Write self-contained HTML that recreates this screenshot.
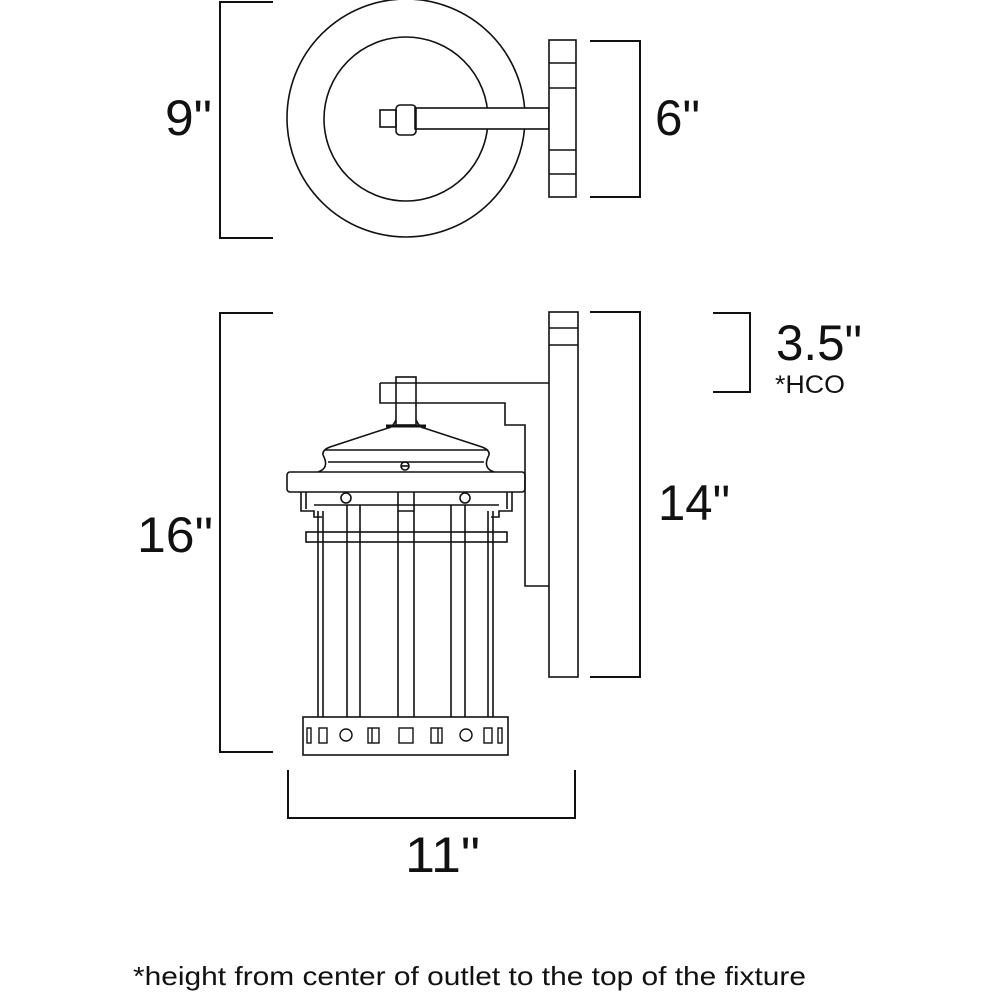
<!DOCTYPE html>
<html><head><style>html,body{margin:0;padding:0;background:#fff}svg{display:block}</style></head>
<body>
<svg width="1000" height="1000" viewBox="0 0 1000 1000" xmlns="http://www.w3.org/2000/svg" font-family="Liberation Sans, sans-serif" fill="none" stroke="#111" stroke-width="1.6">
<!-- top view -->
<circle cx="406" cy="118" r="119"/>
<circle cx="406" cy="119" r="82"/>
<rect x="415" y="108" width="134" height="21" fill="#fff"/>
<rect x="380" y="110" width="16" height="17"/>
<rect x="396" y="105" width="20" height="30" rx="4"/>
<rect x="549" y="40" width="27" height="157" fill="#fff"/>
<path d="M549 63H576M549 88H576M549 150H576M549 174H576"/>
<path d="M590 41H640V197H590" stroke-width="2"/>
<path d="M273 2H220V238H273" stroke-width="2"/>
<!-- side view bracket -->
<rect x="549" y="312" width="29" height="365"/>
<path d="M549 328H578M549 345H578"/>
<path d="M380 383H549M380 383V403H505V425H525V586H549"/>
<rect x="396" y="377" width="20" height="48"/>
<!-- canopy -->
<path d="M396 420 Q392 428 388 428 L330 447 Q322 450 323 455 M416 420 Q420 428 424 428 L482 447 Q490 450 489 455"/>
<path d="M386 426H426" stroke-width="3"/>
<path d="M325 450H488"/>
<path d="M323 455 Q330 468 318 472 M489 455 Q482 468 494 472"/>
<path d="M328 462H484"/>
<rect x="287" y="472" width="238" height="20" rx="3"/>
<circle cx="405" cy="466" r="4"/>
<path d="M401 466H409"/>
<!-- cage top -->
<path d="M301 492V511H314V517H322 M512 492V511H499V517H491 M306 492V509 M507 492V509 M314 505H499"/>
<circle cx="346" cy="498" r="5"/><circle cx="465" cy="498" r="5"/>
<path d="M398 492V511H414V492"/>
<rect x="306" y="532" width="201" height="10"/>
<path d="M318 511V717M323 511V717M347 505V717M360 505V717M398 511V717M414 511V717M451 505V717M465 505V717M488 511V717M493 511V717"/>
<!-- base -->
<rect x="303" y="717" width="205" height="38"/>
<g stroke-width="1.4">
<rect x="307" y="728" width="4" height="15"/><rect x="319" y="728" width="8" height="15"/>
<circle cx="346" cy="735" r="6"/>
<rect x="368" y="728" width="11" height="15"/><path d="M372 728V743"/>
<rect x="399" y="728" width="14" height="15"/>
<rect x="431" y="728" width="11" height="15"/><path d="M438 728V743"/>
<circle cx="466" cy="735" r="6"/>
<rect x="484" y="728" width="8" height="15"/><rect x="498" y="728" width="4" height="15"/>
</g>
<!-- dims -->
<path d="M273 313H220V752H273" stroke-width="2"/>
<path d="M590 312H640V677H590" stroke-width="2"/>
<path d="M713 313H750V392H713" stroke-width="2"/>
<path d="M288 770V818H575V770" stroke-width="2"/>
<g fill="#111" stroke="none">
<text x="165" y="135" font-size="50" textLength="47" lengthAdjust="spacingAndGlyphs">9"</text>
<text x="655" y="135" font-size="50" textLength="45" lengthAdjust="spacingAndGlyphs">6"</text>
<text x="137" y="552" font-size="50" textLength="76" lengthAdjust="spacingAndGlyphs">16"</text>
<text x="658" y="520" font-size="50" textLength="72" lengthAdjust="spacingAndGlyphs">14"</text>
<text x="776" y="360" font-size="50" textLength="86" lengthAdjust="spacingAndGlyphs">3.5"</text>
<text x="775" y="393" font-size="25" textLength="70" lengthAdjust="spacingAndGlyphs">*HCO</text>
<text x="405" y="872" font-size="50" textLength="75" lengthAdjust="spacingAndGlyphs">11"</text>
<text x="133" y="985" font-size="26" textLength="673" lengthAdjust="spacingAndGlyphs">*height from center of outlet to the top of the fixture</text>
</g>
</svg>
</body></html>
